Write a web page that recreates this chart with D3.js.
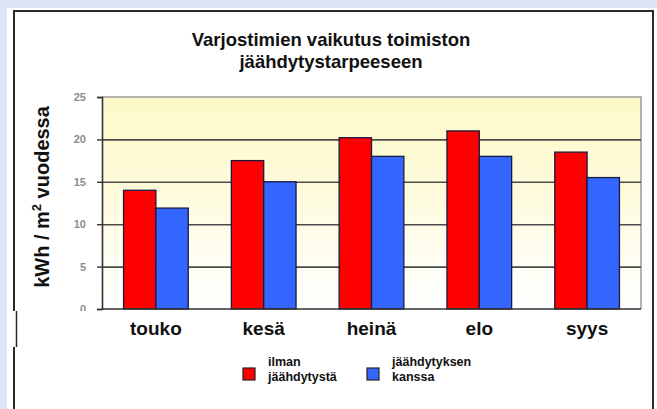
<!DOCTYPE html>
<html>
<head>
<meta charset="utf-8">
<script src="https://cdn.jsdelivr.net/npm/d3@7"></script>
<style>
  body { margin: 0; background: #dde4f3; }
  svg { display: block; font-family: "Liberation Sans", Arial, sans-serif; }
</style>
</head>
<body>
<div id="chart"></div>
<script>
// values
var months = ['touko', 'kesä', 'heinä', 'elo', 'syys']
var ilman = [14, 17.5, 20.2, 21, 18.5]
var kanssa = [11.9, 15, 18, 18, 15.5]
var series_names = ['ilman', 'kanssa']
var legend_labels = [['ilman', 'jäähdytystä'], ['jäähdytyksen', 'kanssa']]
var y_ticks = [0, 5, 10, 15, 20, 25]

var colors = {ilman: '#ff0000', kanssa: '#3366ff'}

var W = 657, H = 409
var margin = {top: 97, right: 16, bottom: 100, left: 102},
    width = W - margin.left - margin.right,
    height = 309 - margin.top;

const root = d3.select('#chart')
    .append('svg')
        .attr('width', W)
        .attr('height', H)

// page background + white panel with open-bottom frame
root.append('rect').attr('width', W).attr('height', H).attr('fill', '#dde4f3')
root.append('rect').attr('x', 7).attr('y', 8).attr('width', W - 7).attr('height', H - 8).attr('fill', '#fff')
var frame = [[14, 11, 14, H], [13, 11, 654, 11], [653, 11, 653, H]]
root.selectAll('.frame')
    .data(frame)
    .enter().append('line')
    .attr('x1', function(d) { return d[0] })
    .attr('y1', function(d) { return d[1] })
    .attr('x2', function(d) { return d[2] })
    .attr('y2', function(d) { return d[3] })
    .attr('stroke', '#2a2a2a')
    .attr('stroke-width', 2)

// plot gradient
var defs = root.append('defs')
var grad = defs.append('linearGradient').attr('id', 'bg').attr('x1', 0).attr('y1', 0).attr('x2', 0).attr('y2', 1)
grad.append('stop').attr('offset', '0%').attr('stop-color', '#fdf9c9')
grad.append('stop').attr('offset', '45%').attr('stop-color', '#fefbdc')
grad.append('stop').attr('offset', '80%').attr('stop-color', '#fffef4')
grad.append('stop').attr('offset', '100%').attr('stop-color', '#ffffff')

// title
var title_lines = ['Varjostimien vaikutus toimiston', 'jäähdytystarpeeseen']
root.selectAll('.title')
    .data(title_lines)
    .enter().append('text')
    .attr('x', 331)
    .attr('y', function(d, i) { return 46 + i * 22 })
    .attr('text-anchor', 'middle')
    .attr('font-weight', 'bold')
    .attr('font-size', '18.5px')
    .attr('fill', '#111')
    .text(function(d) { return d })

const svg = root.append('g')
    .attr('transform', 'translate(' + margin.left + ',' + margin.top + ')')

var x0 = d3.scaleBand()
    .domain(months)
    .range([0, width])
    .paddingInner(0.4)
    .paddingOuter(0.2)

var x1 = d3.scaleBand()
    .domain(series_names)
    .range([0, x0.bandwidth()])

var y = d3.scaleLinear()
    .domain([0, 25])
    .range([height, 0])

svg.append('rect')
    .attr('width', width)
    .attr('height', height)
    .attr('fill', 'url(#bg)')

// plot frame (top/right), light grey
svg.append('path')
    .attr('d', 'M0,0H' + width + 'V' + height)
    .attr('fill', 'none')
    .attr('stroke', '#9a9a9a')
    .attr('stroke-width', 1.5)

// gridlines
var yGrid = d3.axisRight(y)
    .tickValues(y_ticks.filter(function(d) { return d > 0 && d < 25 }))
    .tickSize(width)
    .tickFormat('')
svg.append('g')
    .call(yGrid)
    .call(function(g) { g.select('.domain').remove() })
    .selectAll('line')
      .attr('stroke', '#4a4a4a')
      .attr('stroke-width', 1.6)

// y axis
var yAxis = svg.append('g')
    .call(d3.axisLeft(y).tickValues(y_ticks).tickSize(5).tickPadding(11))
yAxis.select('.domain').attr('stroke', '#333').attr('stroke-width', 1.6)
yAxis.selectAll('line').attr('stroke', '#333').attr('stroke-width', 1.4)
yAxis.selectAll('text')
    .attr('fill', '#8c8c8c')
    .attr('font-size', '11px')
    .attr('font-weight', 'bold')

// bars
var groups = svg.selectAll('.grp')
    .data(months)
    .enter().append('g')
    .attr('transform', function(d) { return 'translate(' + x0(d) + ',0)' })

groups.selectAll('rect')
    .data(function(d, i) {
        return [{key: 'ilman', value: ilman[i]}, {key: 'kanssa', value: kanssa[i]}]
    })
    .enter().append('rect')
    .attr('x', function(d) { return x1(d.key) })
    .attr('y', function(d) { return y(d.value) })
    .attr('width', x1.bandwidth())
    .attr('height', function(d) { return height - y(d.value) })
    .attr('fill', function(d) { return colors[d.key] })
    .attr('stroke', '#1a1a40')
    .attr('stroke-width', 1.3)

// x baseline
svg.append('line')
    .attr('x1', 0).attr('x2', width)
    .attr('y1', height).attr('y2', height)
    .attr('stroke', '#333')
    .attr('stroke-width', 1.6)

// pasted white patch over the bottom-left corner, as in the picture
root.append('rect')
    .attr('x', 13).attr('y', margin.top + height + 2)
    .attr('width', margin.left - 16).attr('height', 36)
    .attr('fill', '#fff')
root.append('line')
    .attr('x1', 16.5).attr('x2', 16.5)
    .attr('y1', margin.top + height + 2).attr('y2', margin.top + height + 38)
    .attr('stroke', '#2a2a2a').attr('stroke-width', 1.5)

// category labels
svg.selectAll('.cat')
    .data(months)
    .enter().append('text')
    .attr('x', function(d) { return x0(d) + x0.bandwidth() / 2 })
    .attr('y', height + 26)
    .attr('text-anchor', 'middle')
    .attr('font-weight', 'bold')
    .attr('font-size', '19px')
    .attr('fill', '#111')
    .text(function(d) { return d })

// y title
var yt = root.append('text')
    .attr('transform', 'translate(49,197) rotate(-90)')
    .attr('text-anchor', 'middle')
    .attr('font-weight', 'bold')
    .attr('font-size', '20px')
    .attr('fill', '#111')
yt.append('tspan').text('kWh / m')
yt.append('tspan').attr('dy', -8).attr('font-size', '13px').text('2')
yt.append('tspan').attr('dy', 8).text(' vuodessa')

// legend
var legend_x = [243, 367]
var lg = root.selectAll('.lg')
    .data(series_names)
    .enter().append('g')
    .attr('transform', function(d, i) { return 'translate(' + legend_x[i] + ',368)' })

lg.append('rect')
    .attr('width', 12).attr('height', 12)
    .attr('fill', function(d) { return colors[d] })
    .attr('stroke', '#222')
    .attr('stroke-width', 1.2)

lg.each(function(d, i) {
    var t = d3.select(this).append('text')
        .attr('font-weight', 'bold')
        .attr('font-size', '12.5px')
        .attr('fill', '#111')
    legend_labels[i].forEach(function(s, j) {
        t.append('tspan')
            .attr('x', 25)
            .attr('y', -2 + j * 15)
            .text(s)
    })
})
</script>
</body>
</html>
